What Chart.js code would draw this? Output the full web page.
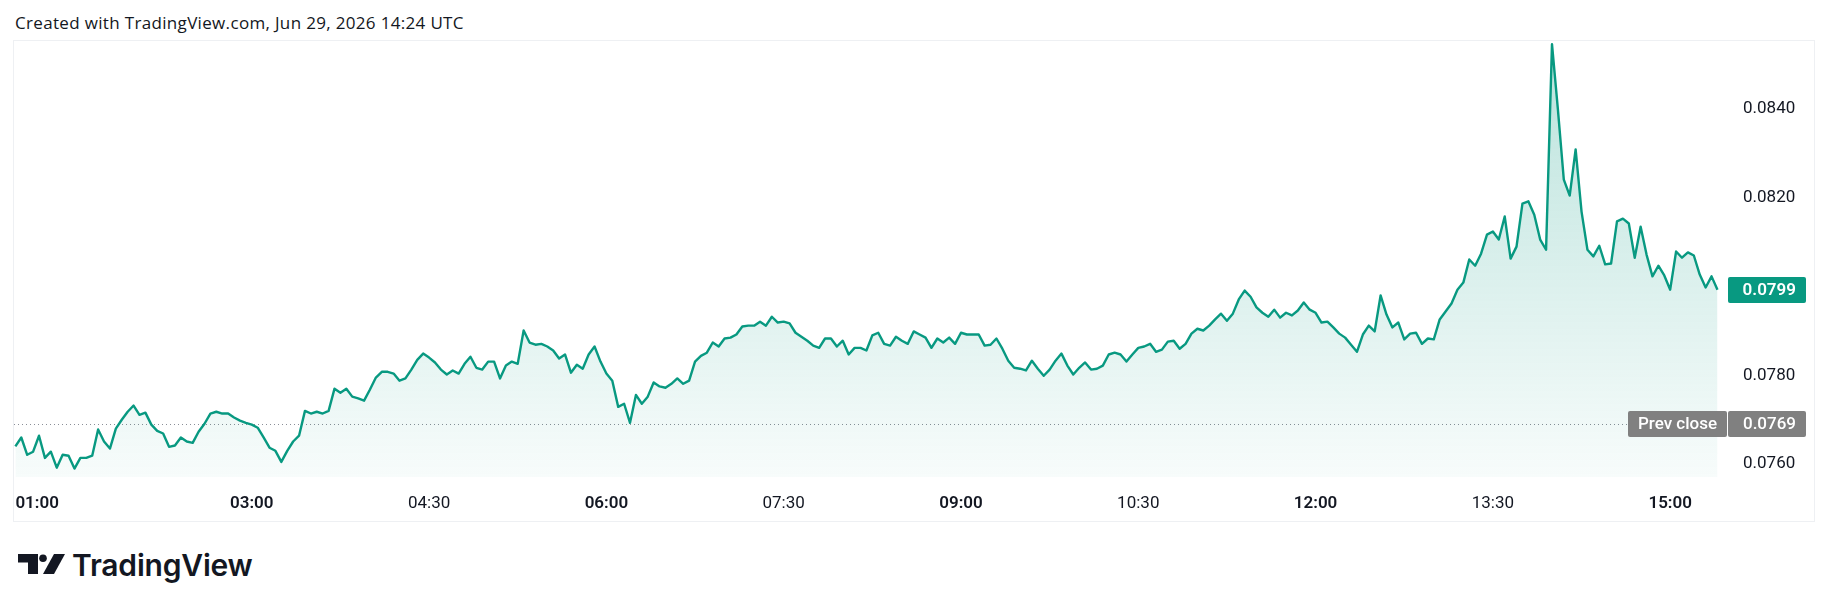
<!DOCTYPE html>
<html>
<head>
<meta charset="utf-8">
<script src="https://cdn.jsdelivr.net/npm/chart.js"></script>
<style>
  html, body { margin: 0; padding: 0; background: #ffffff; width: 1830px; height: 611px; overflow: hidden; }
  #hdr { position: absolute; left: 15px; top: 14px; font-family: "Open Sans", sans-serif; font-size: 17px; line-height: 17px; color: #131722; white-space: nowrap; letter-spacing: 0.33px; }
  #frame { position: absolute; left: 13px; top: 40px; width: 1802px; height: 482px; border: 1px solid #eef0f3; box-sizing: border-box; }
  #wrap { position: absolute; left: 14px; top: 42px; width: 1800px; height: 480px; }
  #logo { position: absolute; left: 18px; top: 553px; width: 48px; height: 22px; }
  #logotext { position: absolute; left: 72px; top: 550px; font-family: Inter, sans-serif; font-weight: 600; font-size: 30px; line-height: 30px; color: #131722; white-space: nowrap; letter-spacing: -0.2px; }
</style>
</head>
<body>
<div id="hdr">Created with TradingView.com, Jun 29, 2026 14:24 UTC</div>
<div id="frame"></div>
<div id="wrap"><canvas id="c" width="1800" height="480"></canvas></div>
<svg id="logo" viewBox="0 0 48 22" xmlns="http://www.w3.org/2000/svg">
  <path d="M0 1 H20 V21 H10 V9.5 H0 Z" fill="#131722"/>
  <circle cx="25" cy="5.3" r="3.8" fill="#131722"/>
  <path d="M25 21 H36 L47 1 H36 Z" fill="#131722"/>
</svg>
<div id="logotext">TradingView</div>
<script>
// ---- data ----
const START_TIME = '01:00';      // time of first sample
const STEP_MIN = 3;              // minutes between samples
const PRICES = [
  0.07640, 0.07660, 0.07621, 0.07628, 0.07664, 0.07614, 0.07628, 0.07592, 0.07621, 0.07619,
  0.07590, 0.07614, 0.07614, 0.07619, 0.07678, 0.07651, 0.07635, 0.07680, 0.07700, 0.07718,
  0.07732, 0.07711, 0.07716, 0.07689, 0.07675, 0.07669, 0.07639, 0.07642, 0.07660, 0.07651,
  0.07648, 0.07673, 0.07691, 0.07714, 0.07718, 0.07714, 0.07714, 0.07705, 0.07698, 0.07693,
  0.07689, 0.07682, 0.07660, 0.07637, 0.07630, 0.07605, 0.07630, 0.07651, 0.07664, 0.07720,
  0.07714, 0.07718, 0.07714, 0.07720, 0.07770, 0.07761, 0.07770, 0.07752, 0.07748, 0.07743,
  0.07768, 0.07795, 0.07808, 0.07808, 0.07804, 0.07788, 0.07793, 0.07813, 0.07835, 0.07849,
  0.07840, 0.07829, 0.07813, 0.07802, 0.07811, 0.07804, 0.07826, 0.07842, 0.07817, 0.07813,
  0.07831, 0.07831, 0.07793, 0.07822, 0.07831, 0.07826, 0.07901, 0.07874, 0.07869, 0.07871,
  0.07865, 0.07856, 0.07838, 0.07847, 0.07806, 0.07824, 0.07815, 0.07847, 0.07865, 0.07831,
  0.07804, 0.07788, 0.07729, 0.07736, 0.07693, 0.07756, 0.07736, 0.07752, 0.07784, 0.07775,
  0.07772, 0.07781, 0.07793, 0.07781, 0.07788, 0.07831, 0.07844, 0.07851, 0.07874, 0.07865,
  0.07883, 0.07885, 0.07892, 0.07910, 0.07912, 0.07912, 0.07921, 0.07912, 0.07932, 0.07919,
  0.07921, 0.07917, 0.07896, 0.07887, 0.07878, 0.07867, 0.07862, 0.07883, 0.07883, 0.07865,
  0.07878, 0.07847, 0.07862, 0.07862, 0.07856, 0.07890, 0.07896, 0.07871, 0.07867, 0.07887,
  0.07878, 0.07871, 0.07899, 0.07892, 0.07885, 0.07862, 0.07883, 0.07874, 0.07885, 0.07871,
  0.07896, 0.07892, 0.07892, 0.07892, 0.07867, 0.07869, 0.07883, 0.07860, 0.07833, 0.07817,
  0.07815, 0.07811, 0.07833, 0.07815, 0.07799, 0.07813, 0.07833, 0.07849, 0.07822, 0.07802,
  0.07817, 0.07829, 0.07813, 0.07815, 0.07822, 0.07847, 0.07851, 0.07847, 0.07831, 0.07847,
  0.07862, 0.07865, 0.07871, 0.07853, 0.07858, 0.07876, 0.07878, 0.07860, 0.07871, 0.07894,
  0.07905, 0.07901, 0.07912, 0.07926, 0.07939, 0.07923, 0.07939, 0.07971, 0.07991, 0.07977,
  0.07953, 0.07941, 0.07932, 0.07948, 0.07930, 0.07941, 0.07935, 0.07946, 0.07964, 0.07948,
  0.07941, 0.07919, 0.07921, 0.07908, 0.07894, 0.07885, 0.07869, 0.07853, 0.07892, 0.07912,
  0.07899, 0.07980, 0.07937, 0.07908, 0.07919, 0.07881, 0.07894, 0.07896, 0.07871, 0.07883,
  0.07881, 0.07926, 0.07944, 0.07962, 0.07993, 0.08009, 0.08061, 0.08047, 0.08074, 0.08117,
  0.08124, 0.08106, 0.08158, 0.08063, 0.08090, 0.08187, 0.08192, 0.08162, 0.08106, 0.08083,
  0.08546, 0.08399, 0.08241, 0.08205, 0.08309, 0.08169, 0.08083, 0.08068, 0.08092, 0.08050,
  0.08052, 0.08147, 0.08153, 0.08142, 0.08065, 0.08135, 0.08072, 0.08023, 0.08047, 0.08025,
  0.07993, 0.08079, 0.08065, 0.08077, 0.08070, 0.08027, 0.07998, 0.08023, 0.07993
];
const PREV_CLOSE = 0.0769;
const TIME_TICKS = ['01:00', '03:00', '04:30', '06:00', '07:30', '09:00', '10:30', '12:00', '13:30', '15:00'];
const BOLD_TICKS = ['01:00', '03:00', '06:00', '09:00', '12:00', '15:00'];
const PRICE_TICKS = [0.0760, 0.0780, 0.0820, 0.0840];
const Y_MIN = 0.07571, Y_MAX = 0.08551;      // visible price range
const X_MIN = -0.7, X_MAX = 866.3;           // visible minutes after START_TIME

// ---- helpers ----
const toMin = t => { const [h, m] = t.split(':').map(Number); return h * 60 + m; };
const minutesFromStart = t => toMin(t) - toMin(START_TIME);
const FONT = 'Roboto, "Noto Sans", sans-serif';
const GREEN = '#089981';
const TEXT = '#131722';

const points = PRICES.map((p, i) => ({ x: i * STEP_MIN, y: p }));
const tickLabelByMin = {};
TIME_TICKS.forEach(t => { tickLabelByMin[minutesFromStart(t)] = t; });
const LAST = PRICES[PRICES.length - 1];

const priceTags = {
  id: 'priceTags',
  beforeDatasetsDraw(chart) {
    const { ctx, chartArea, scales: { y } } = chart;
    const yp = Math.round(y.getPixelForValue(PREV_CLOSE)) + 0.5;
    ctx.save();
    ctx.strokeStyle = '#8a8e97';
    ctx.lineWidth = 1;
    ctx.setLineDash([1, 3]);
    ctx.beginPath();
    ctx.moveTo(chartArea.left, yp);
    ctx.lineTo(y.left - 94, yp);
    ctx.stroke();
    ctx.restore();
  },
  afterDraw(chart) {
    const { ctx, scales: { y } } = chart;
    const boxL = y.left + 6, boxR = y.right - 8, textR = y.right - 18, h = 26;
    const box = (x0, x1, yc, color) => {
      ctx.fillStyle = color;
      ctx.beginPath();
      ctx.roundRect(x0, Math.round(yc - h / 2), x1 - x0, h, 2);
      ctx.fill();
    };
    ctx.save();
    ctx.textBaseline = 'middle';
    // last price
    const yl = y.getPixelForValue(LAST);
    box(boxL, boxR, yl, GREEN);
    ctx.fillStyle = '#ffffff';
    ctx.font = '600 17px ' + FONT;
    ctx.textAlign = 'right';
    ctx.fillText(LAST.toFixed(4), textR, yl + 1);
    // prev close
    const yc = y.getPixelForValue(PREV_CLOSE);
    box(y.left - 94, y.left + 5, yc, '#808080');
    box(boxL, boxR, yc, '#808080');
    ctx.fillStyle = '#ffffff';
    ctx.font = '500 17px ' + FONT;
    ctx.textAlign = 'center';
    ctx.fillText('Prev close', y.left - 44.5, yc + 1);
    ctx.textAlign = 'right';
    ctx.fillText(PREV_CLOSE.toFixed(4), textR, yc + 1);
    ctx.restore();
  }
};

const ctx = document.getElementById('c').getContext('2d');
new Chart(ctx, {
  type: 'line',
  data: {
    datasets: [{
      data: points,
      borderColor: GREEN,
      borderWidth: 2.4,
      borderJoinStyle: 'round',
      pointRadius: 0,
      tension: 0,
      fill: 'start',
      backgroundColor: (c) => {
        const area = c.chart.chartArea;
        if (!area) return 'rgba(8,153,129,0.1)';
        const g = c.chart.ctx.createLinearGradient(0, area.top, 0, area.bottom);
        g.addColorStop(0, 'rgba(8,153,129,0.28)');
        g.addColorStop(1, 'rgba(8,153,129,0.03)');
        return g;
      }
    }]
  },
  options: {
    responsive: false,
    animation: false,
    devicePixelRatio: 1,
    layout: { padding: 0 },
    plugins: { legend: { display: false }, tooltip: { enabled: false } },
    scales: {
      x: {
        type: 'linear',
        min: X_MIN,
        max: X_MAX,
        grid: { display: false, drawTicks: false },
        border: { display: false },
        afterBuildTicks: (s) => {
          s.ticks = TIME_TICKS.map(t => ({ value: minutesFromStart(t) })).concat([{ value: X_MAX }]);
        },
        afterFit: (s) => { s.height = 45; s.paddingLeft = 0; s.paddingRight = 0; },
        ticks: {
          autoSkip: false,
          maxRotation: 0,
          align: 'inner',
          padding: 16.5,
          color: TEXT,
          font: (c) => ({ family: FONT, size: 17, weight: (c.tick && BOLD_TICKS.includes(c.tick.label)) ? '600' : '400' }),
          callback: (v) => tickLabelByMin[v] || ''
        }
      },
      y: {
        position: 'right',
        min: Y_MIN,
        max: Y_MAX,
        grid: { display: false, drawTicks: false },
        border: { display: false },
        afterBuildTicks: (s) => { s.ticks = PRICE_TICKS.map(v => ({ value: v })); },
        afterFit: (s) => { s.width = 92; s.paddingTop = 0; s.paddingBottom = 0; },
        ticks: {
          crossAlign: 'near',
          padding: 21,
          color: TEXT,
          font: { family: FONT, size: 17 },
          callback: (v) => Number(v).toFixed(4)
        }
      }
    }
  },
  plugins: [priceTags]
});
</script>
</body>
</html>
